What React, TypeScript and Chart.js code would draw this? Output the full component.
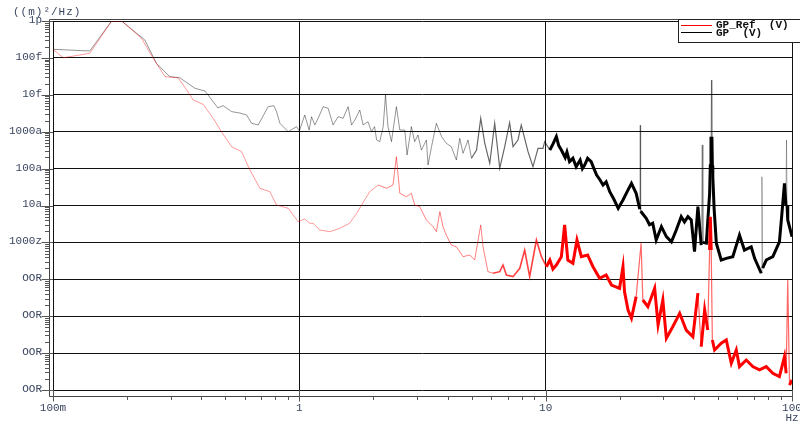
import React, { useEffect, useRef } from 'react';
import { Chart, registerables } from 'chart.js';

Chart.register(...registerables);

const xTickValues = [0.1, 1, 10, 100];
const xTickLabels = ['100m', '1', '10', '100'];
const yTickValues = [1e-12, 1e-13, 1e-14, 1e-15, 1e-16, 1e-17, 1e-18, 1e-19, 1e-20, 1e-21, 1e-22];
const yTickLabels = ['1p', '100f', '10f', '1000a', '100a', '10a', '1000z', 'OOR', 'OOR', 'OOR', 'OOR'];
const yUnitLabel = '((m)\u00B2/Hz)';
const xUnitLabel = 'Hz';
const seriesNames = ['GP_Ref  (V)', 'GP  (V)'];

// [frequency Hz, PSD (m)^2/Hz]
const gpRef: [number, number][] = [
  [0.1, 1.71e-13], [0.11, 1.01e-13], [0.141, 1.33e-13], [0.173, 1e-12], [0.19, 1e-12],
  [0.229, 3.4e-13], [0.255, 9.75e-14], [0.285, 3.1e-14], [0.322, 2.9e-14], [0.349, 1.35e-14],
  [0.371, 7.2e-15], [0.407, 5.5e-15], [0.447, 2.31e-15], [0.483, 1.0e-15], [0.531, 3.92e-16],
  [0.583, 2.87e-16], [0.63, 9.2e-17], [0.692, 2.92e-17], [0.759, 2.37e-17], [0.808, 1.03e-17],
  [0.901, 8.4e-18], [0.989, 3.64e-18], [1.052, 4.3e-18], [1.103, 3.3e-18], [1.138, 3.3e-18],
  [1.21, 2.17e-18], [1.33, 1.95e-18], [1.46, 2.41e-18], [1.6, 3.3e-18], [1.71, 6.15e-18],
  [1.79, 1.03e-17], [1.93, 2.37e-17], [2.09, 3.6e-17], [2.26, 2.92e-17], [2.4, 3.6e-17],
  [2.478, 2.1e-16], [2.558, 2.14e-17], [2.72, 1.73e-17], [2.85, 2.14e-17], [2.94, 1.03e-17],
  [3.08, 9.3e-18], [3.28, 4.05e-18], [3.49, 2.67e-18], [3.6, 1.95e-18], [3.72, 6.8e-18],
  [3.83, 2.67e-18], [3.95, 1.58e-18], [4.14, 8.5e-19], [4.34, 7.6e-19], [4.62, 4.1e-19],
  [4.92, 4.56e-19], [5.15, 3.33e-19], [5.45, 2.96e-18], [5.57, 7.6e-19], [5.83, 1.61e-19],
  [6.11, 1.46e-19], [6.51, 1.61e-19], [6.71, 2.44e-19], [6.93, 1.31e-19], [7.37, 1.18e-19],
  [7.85, 1.99e-19], [8.22, 6.2e-19], [8.61, 1.18e-19], [9.17, 1.16e-18], [9.61, 4.1e-19],
  [10.07, 2.19e-19], [10.4, 3.33e-19], [10.7, 1.9e-19], [11.05, 2.44e-19], [11.58, 4.1e-19],
  [11.94, 2.96e-18], [12.3, 3.33e-19], [12.9, 2.72e-19], [13.4, 1.16e-18], [13.96, 4.1e-19],
  [14.8, 4.56e-19], [15.56, 2.19e-19], [16.56, 1.06e-19], [17.6, 1.31e-19], [18.5, 7.0e-20],
  [19.95, 5.7e-20], [20.6, 2.19e-19], [20.9, 4.6e-20], [21.6, 1.47e-20], [22.3, 8.8e-21],
  [23.3, 3.4e-20], [24.4, 9.5e-19], [24.8, 2.75e-20], [26.0, 1.81e-20], [27.7, 5.7e-20],
  [28.6, 5.8e-21], [29.9, 2.75e-20], [30.9, 2.52e-21], [32.8, 5.2e-21], [35.0, 1.2e-20],
  [37.2, 4.2e-21], [39.6, 2.78e-21], [41.5, 4.2e-20], [42.8, 1.49e-21], [44.2, 1.47e-20],
  [45.5, 4.2e-21], [46.3, 6.2e-19], [46.6, 4.97e-18], [47.0, 6.2e-19], [47.5, 2.26e-21],
  [48.5, 1.21e-21], [51.6, 1.85e-21], [54.1, 2.26e-21], [56.7, 5.3e-22], [59.4, 1.21e-21],
  [61.2, 4.3e-22], [65.2, 6.5e-22], [69.3, 4.3e-22], [73.8, 3.5e-22], [78.6, 4.3e-22],
  [83.6, 2.84e-22], [88.9, 2.3e-22], [93.2, 8.0e-22], [94.7, 2.84e-22], [96.1, 9.6e-20],
  [97.7, 1.36e-22], [100, 1.87e-22],
];

const gp: [number, number][] = [
  [0.1, 1.71e-13], [0.141, 1.54e-13], [0.173, 1e-12], [0.19, 1e-12], [0.236, 3.05e-13],
  [0.263, 7.1e-14], [0.298, 3.1e-14], [0.327, 2.9e-14], [0.377, 1.5e-14], [0.414, 1.27e-14],
  [0.467, 4.4e-15], [0.49, 5.1e-15], [0.531, 3.5e-15], [0.574, 3.2e-15], [0.611, 2.84e-15],
  [0.64, 1.69e-15], [0.681, 1.52e-15], [0.747, 4.76e-15], [0.788, 5.07e-15], [0.808, 3.48e-15],
  [0.834, 1.69e-15], [0.901, 1.0e-15], [0.974, 1.37e-15], [1.0, 1.04e-15], [1.052, 2.84e-15],
  [1.096, 1.11e-15], [1.121, 2.55e-15], [1.156, 1.52e-15], [1.192, 2.31e-15], [1.25, 4.76e-15],
  [1.309, 4.31e-15], [1.371, 1.52e-15], [1.437, 2.55e-15], [1.506, 2.31e-15], [1.578, 4.76e-15],
  [1.629, 1.52e-15], [1.68, 2.07e-15], [1.76, 3.87e-15], [1.815, 1.52e-15], [1.9, 1.87e-15],
  [1.963, 1.0e-15], [2.02, 1.37e-15], [2.06, 5.96e-16], [2.12, 5.36e-16], [2.19, 1.37e-15],
  [2.238, 9.9e-15], [2.29, 1.37e-15], [2.366, 5.36e-16], [2.478, 4.76e-15], [2.558, 1.11e-15],
  [2.68, 1.11e-15], [2.737, 2.34e-16], [2.85, 1.37e-15], [2.94, 5.36e-16], [3.03, 8.14e-16],
  [3.13, 3.19e-16], [3.28, 5.96e-16], [3.33, 1.25e-16], [3.44, 3.92e-16], [3.6, 1.69e-15],
  [3.78, 7.32e-16], [3.95, 4.85e-16], [4.14, 3.92e-16], [4.34, 1.71e-16], [4.48, 6.62e-16],
  [4.62, 2.6e-16], [4.84, 5.96e-16], [5.0, 1.9e-16], [5.24, 3.19e-16], [5.45, 2.31e-15],
  [5.66, 4.85e-16], [5.93, 1.39e-16], [6.21, 1.69e-15], [6.51, 1.02e-16], [6.82, 3.92e-16],
  [7.14, 1.75e-15], [7.37, 3.92e-16], [7.72, 5.96e-16], [7.96, 1.52e-15], [8.48, 2.87e-16],
  [8.88, 1.12e-16], [9.31, 3.55e-16], [9.75, 3.55e-16], [9.91, 5.36e-16], [10.4, 3.19e-16],
  [10.7, 4.6e-16], [11.05, 7.32e-16], [11.3, 4.2e-16], [11.58, 3.19e-16], [12.0, 2.0e-16],
  [12.2, 2.8e-16], [12.5, 1.54e-16], [12.9, 1.9e-16], [13.3, 1.12e-16], [13.8, 1.7e-16],
  [14.1, 1.0e-16], [14.4, 1.25e-16], [14.8, 1.9e-16], [15.3, 1.54e-16], [15.7, 1.0e-16],
  [16.1, 6.7e-17], [16.6, 5.0e-17], [17.1, 3.6e-17], [17.6, 4.4e-17], [18.2, 2.37e-17],
  [18.9, 1.5e-17], [19.7, 8.4e-18], [20.6, 1.41e-17], [21.5, 2.5e-17], [22.3, 4.0e-17],
  [23.3, 2.14e-17], [24.1, 8.0e-18], [24.2, 1.5e-15], [24.3, 7.0e-18], [25.6, 4.5e-18],
  [26.4, 3.0e-18], [27.2, 3.3e-18], [28.1, 1.16e-18], [29.5, 2.67e-18], [30.9, 1.43e-18],
  [32.4, 1.04e-18], [33.9, 2.17e-18], [35.5, 4.97e-18], [36.6, 3.6e-18], [37.8, 4.97e-18],
  [39.0, 4.05e-18], [40.2, 5.6e-19], [41.5, 9.3e-18], [42.8, 8.5e-19], [43.2, 4.4e-16],
  [43.5, 1.0e-18], [44.9, 9.5e-19], [46.3, 2.14e-17], [46.6, 1.2e-16], [46.9, 7.3e-16],
  [47.1, 2.5e-14], [47.3, 7.3e-16], [47.5, 1.2e-16], [47.7, 6.0e-17], [48.3, 8.0e-18],
  [49.3, 9.5e-19], [51.6, 3.33e-19], [54.1, 3.7e-19], [57.5, 4.1e-19], [61.2, 1.58e-18],
  [64.1, 6.2e-19], [68.3, 7.6e-19], [70.5, 3.7e-19], [75.0, 1.46e-19], [75.5, 6.0e-17],
  [76.0, 2.0e-19], [78.6, 3.33e-19], [83.6, 4.1e-19], [88.9, 1.04e-18], [91.0, 6.0e-18],
  [93.2, 4.0e-17], [94.5, 1.0e-17], [95.0, 6.0e-16], [95.5, 1.0e-17], [96.1, 4.05e-18],
  [100, 1.43e-18],
];

const LABEL_FONT = '11px "Liberation Mono", "DejaVu Sans Mono", monospace';
const LEGEND_FONT = 'bold 11px "Liberation Mono", "DejaVu Sans Mono", monospace';
const LABEL_COLOR = '#3a4660';

const steepness = (ctx: any) =>
  Math.abs(Math.log10(ctx.p1.parsed.y / ctx.p0.parsed.y));

const decorPlugin = {
  id: 'decor',
  afterDraw(chart: any) {
    const { ctx, chartArea: a } = chart;
    const xs = chart.scales.x;
    const ys = chart.scales.y;
    const ox = a.left - 3.5;
    const ob = a.bottom + 6.5;
    const ot = a.top - 1.5;
    ctx.save();
    // outer frame
    ctx.strokeStyle = '#444';
    ctx.lineWidth = 1;
    ctx.beginPath();
    ctx.moveTo(a.right + 0.5, ot);
    ctx.lineTo(ox, ot);
    ctx.lineTo(ox, ob);
    ctx.lineTo(a.right + 0.5, ob);
    ctx.stroke();

    // y ticks
    ctx.strokeStyle = '#555';
    ctx.beginPath();
    for (let i = 0; i < yTickValues.length; i++) {
      const py = Math.round(ys.getPixelForValue(yTickValues[i])) + 0.5;
      ctx.moveTo(ox - 8, py);
      ctx.lineTo(a.left, py);
      if (i < yTickValues.length - 1) {
        for (let k = 2; k <= 9; k++) {
          const my = Math.round(ys.getPixelForValue(k * yTickValues[i + 1])) + 0.5;
          ctx.moveTo(ox - 4.5, my);
          ctx.lineTo(ox, my);
        }
      }
    }
    // x ticks
    for (let i = 0; i < xTickValues.length; i++) {
      const px = Math.round(xs.getPixelForValue(xTickValues[i])) + 0.5;
      ctx.moveTo(px, a.bottom);
      ctx.lineTo(px, ob + 5);
      if (i < xTickValues.length - 1) {
        for (let k = 2; k <= 9; k++) {
          const mx = Math.round(xs.getPixelForValue(k * xTickValues[i])) + 0.5;
          ctx.moveTo(mx, ob);
          ctx.lineTo(mx, ob + 3.5);
        }
      }
    }
    ctx.stroke();

    // labels
    ctx.font = LABEL_FONT;
    ctx.fillStyle = LABEL_COLOR;
    ctx.textAlign = 'right';
    ctx.textBaseline = 'middle';
    yTickValues.forEach((v, i) => {
      ctx.fillText(yTickLabels[i], ox - 7.5, ys.getPixelForValue(v) - 1);
    });
    ctx.textAlign = 'center';
    ctx.textBaseline = 'top';
    xTickValues.forEach((v, i) => {
      ctx.fillText(xTickLabels[i], xs.getPixelForValue(v), ob + 6);
    });
    ctx.fillText(xUnitLabel, xs.getPixelForValue(100), ob + 16);
    ctx.textAlign = 'left';
    ctx.textBaseline = 'middle';
    try { (ctx as any).letterSpacing = '1px'; } catch (e) { /* ignore */ }
    ctx.fillText(yUnitLabel, 13, 12);
    try { (ctx as any).letterSpacing = '0px'; } catch (e) { /* ignore */ }

    // legend
    const lx = a.right - 114;
    ctx.fillStyle = '#fff';
    ctx.fillRect(lx, 19, 140, 24);
    ctx.lineWidth = 1;
    ctx.strokeStyle = '#222';
    ctx.strokeRect(lx + 0.5, 19.5, 140, 23);
    ctx.strokeStyle = '#ff0000';
    ctx.beginPath();
    ctx.moveTo(lx + 3, 25.5);
    ctx.lineTo(lx + 34, 25.5);
    ctx.stroke();
    ctx.strokeStyle = '#000';
    ctx.beginPath();
    ctx.moveTo(lx + 3, 32.5);
    ctx.lineTo(lx + 34, 32.5);
    ctx.stroke();
    ctx.font = LEGEND_FONT;
    ctx.fillStyle = '#111';
    ctx.textAlign = 'left';
    ctx.fillText(seriesNames[0], lx + 38, 25.5);
    ctx.fillText(seriesNames[1], lx + 38, 33);
    ctx.restore();
  },
};

export default function App() {
  const ref = useRef<HTMLCanvasElement>(null);
  useEffect(() => {
    if (!ref.current) return;
    const chart = new Chart(ref.current, {
      type: 'line',
      data: {
        datasets: [
          {
            label: seriesNames[0],
            data: gpRef.map(([x, y]) => ({ x, y })),
            borderColor: '#ff0000',
            pointRadius: 0,
            borderWidth: 1,
            segment: {
              borderColor: (c: any) => {
                const x = c.p0.parsed.x;
                if (x < 2) return 'rgba(255,0,0,0.4)';
                if (x < 6) return 'rgba(255,0,0,0.5)';
                if (x < 10) return 'rgba(255,0,0,0.75)';
                return steepness(c) > 1.4 ? 'rgba(255,0,0,0.6)' : '#ff0000';
              },
              borderWidth: (c: any) => {
                const x = c.p0.parsed.x;
                if (x < 6) return 1;
                if (x < 10) return 1.6;
                return steepness(c) > 1.4 ? 1.2 : 3;
              },
            },
          },
          {
            label: seriesNames[1],
            data: gp.map(([x, y]) => ({ x, y })),
            borderColor: '#000',
            pointRadius: 0,
            borderWidth: 1,
            segment: {
              borderColor: (c: any) => {
                const x = c.p0.parsed.x;
                if (x > 20 && steepness(c) > 1.45) return 'rgba(0,0,0,0.3)';
                if (x < 5) return 'rgba(0,0,0,0.42)';
                if (x < 10) return 'rgba(0,0,0,0.6)';
                return '#000';
              },
              borderWidth: (c: any) => {
                const x = c.p0.parsed.x;
                if (x > 20 && steepness(c) > 1.45) return 1;
                if (x < 5) return 1;
                if (x < 10) return 1.2;
                return 3;
              },
            },
          },
        ],
      },
      options: {
        responsive: false,
        animation: false,
        layout: { padding: { top: 21, right: 8, left: 0, bottom: 0 } },
        plugins: { legend: { display: false }, tooltip: { enabled: false } },
        elements: { point: { radius: 0 }, line: { tension: 0 } },
        scales: {
          x: {
            type: 'logarithmic',
            min: 0.1,
            max: 100,
            afterBuildTicks: (s: any) => {
              s.ticks = xTickValues.map((v) => ({ value: v }));
            },
            afterFit: (s: any) => {
              s.height = 32;
            },
            ticks: { display: false },
            grid: { color: '#111', lineWidth: 1, drawTicks: false },
            border: { display: false },
          },
          y: {
            type: 'logarithmic',
            min: 1e-22,
            max: 1e-12,
            afterBuildTicks: (s: any) => {
              s.ticks = yTickValues.map((v) => ({ value: v }));
            },
            afterFit: (s: any) => {
              s.width = 53;
            },
            ticks: { display: false },
            grid: { color: '#111', lineWidth: 1, drawTicks: false },
            border: { display: false },
          },
        },
      },
      plugins: [decorPlugin],
    });
    return () => chart.destroy();
  }, []);
  return (
    <canvas
      ref={ref}
      width={800}
      height={422}
      style={{ position: 'fixed', left: 0, top: 0, display: 'block', background: '#fff' }}
    />
  );
}
